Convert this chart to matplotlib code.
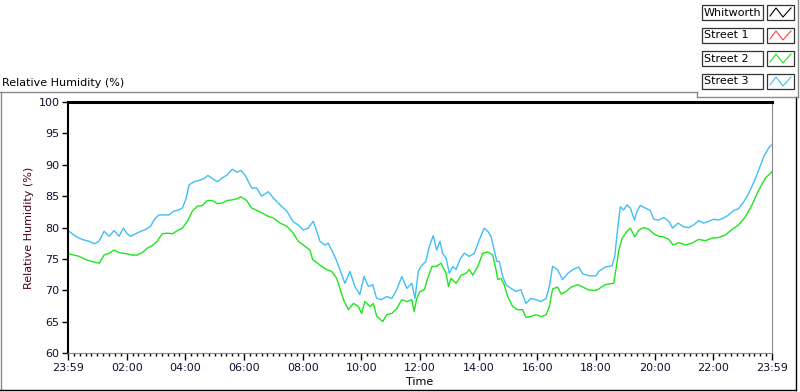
"""
Relative Humidity (%) – 24h Verlauf, Street 2 / Street 3.
Nachbau eines LabVIEW-Waveform-Charts.
"""

import matplotlib
matplotlib.use("Agg")
import matplotlib.pyplot as plt
from matplotlib.lines import Line2D
from matplotlib.patches import Rectangle
from matplotlib.ticker import MultipleLocator

W, H = 800, 392

# Zeit in Stunden seit 23:59 (Start), Werte in %
t_street3 = [0.03, 0.20, 0.38, 0.55, 0.72, 0.89, 1.06, 1.23, 1.40, 1.57, 1.74, 1.89, 2.02, 2.14,
             2.31, 2.48, 2.65, 2.82, 2.93, 3.10, 3.27, 3.44, 3.61, 3.78, 3.90, 4.01, 4.13, 4.30,
             4.47, 4.64, 4.77, 4.92, 5.09, 5.26, 5.43, 5.60, 5.77, 5.89, 6.03, 6.15, 6.26, 6.43,
             6.60, 6.83, 7.00, 7.23, 7.46, 7.68, 7.85, 8.02, 8.19, 8.36, 8.48, 8.59, 8.76, 8.87,
             8.99, 9.14, 9.27, 9.44, 9.61, 9.78, 9.95, 10.09, 10.24, 10.39, 10.52, 10.69, 10.86,
             11.04, 11.21, 11.38, 11.55, 11.72, 11.83, 11.94, 12.03, 12.20, 12.32, 12.45, 12.57,
             12.68, 12.77, 12.89, 13.00, 13.12, 13.23, 13.36, 13.51, 13.68, 13.85, 14.02, 14.19,
             14.31, 14.42, 14.53, 14.62, 14.70, 14.82, 14.93, 15.10, 15.27, 15.44, 15.61, 15.78,
             15.95, 16.13, 16.30, 16.41, 16.52, 16.69, 16.86, 17.04, 17.21, 17.41, 17.55, 17.77,
             18.00, 18.09, 18.32, 18.55, 18.64, 18.72, 18.83, 18.94, 19.06, 19.17, 19.31, 19.40,
             19.51, 19.68, 19.85, 19.97, 20.14, 20.31, 20.48, 20.61, 20.80, 20.99, 21.16, 21.33,
             21.50, 21.67, 21.84, 22.01, 22.18, 22.35, 22.52, 22.69, 22.86, 23.04, 23.21, 23.38,
             23.55, 23.72, 23.89, 24.00]
rh_street3 = [79.4, 78.8, 78.3, 78.0, 77.8, 77.4, 77.8, 79.4, 78.6, 79.5, 78.6, 79.9, 79.0, 78.6,
              79.0, 79.4, 79.7, 80.2, 81.2, 82.0, 82.0, 82.0, 82.6, 82.8, 83.1, 84.4, 86.8, 87.3,
              87.5, 87.8, 88.3, 87.8, 87.3, 87.9, 88.4, 89.3, 88.8, 89.1, 88.4, 87.3, 86.3, 86.3,
              85.0, 85.7, 84.7, 83.6, 82.6, 80.9, 80.4, 79.6, 79.9, 81.0, 79.4, 77.8, 77.2, 77.5,
              76.4, 74.9, 73.3, 71.1, 73.0, 70.6, 69.3, 72.2, 70.6, 70.9, 68.7, 68.5, 69.0,
              68.7, 70.1, 72.2, 70.3, 71.1, 68.7, 73.0, 73.8, 74.6, 77.0, 78.7, 76.4,
              77.8, 75.9, 75.1, 72.7, 73.8, 73.3, 74.9, 75.9, 75.4, 75.9, 78.0, 79.9,
              79.4, 78.6, 76.4, 74.6, 74.6, 72.2, 70.9, 70.3, 69.8, 70.1, 67.9, 68.7,
              68.5, 68.2, 68.7, 70.6, 73.8, 73.3, 71.7, 72.7, 73.3, 73.7, 72.6, 72.3,
              72.3, 73.0, 73.7, 73.9, 75.4, 79.1, 83.3, 82.8, 83.6, 83.1, 81.2, 82.6,
              83.5, 83.1, 82.7, 81.3, 81.2, 81.6, 81.0, 79.9, 80.7, 80.1, 80.0, 80.4,
              81.1, 80.7, 81.0, 81.3, 81.2, 81.5, 82.0, 82.7, 83.0, 84.1, 85.5, 87.2,
              89.2, 91.3, 92.7, 93.2]

t_street2 = [0.03, 0.20, 0.38, 0.55, 0.72, 0.89, 1.06, 1.23, 1.40, 1.57, 1.74, 1.89, 2.02, 2.19,
             2.36, 2.53, 2.70, 2.87, 3.04, 3.21, 3.39, 3.56, 3.73, 3.90, 4.07, 4.24, 4.41, 4.58,
             4.75, 4.92, 5.09, 5.26, 5.43, 5.60, 5.77, 5.89, 6.09, 6.26, 6.55, 6.77, 7.00, 7.23,
             7.46, 7.68, 7.85, 8.08, 8.25, 8.34, 8.48, 8.65, 8.82, 8.99, 9.16, 9.27, 9.39, 9.56,
             9.73, 9.90, 10.01, 10.12, 10.30, 10.41, 10.52, 10.73, 10.86, 11.04, 11.21, 11.38,
             11.55, 11.72, 11.80, 11.89, 12.00, 12.15, 12.26, 12.41, 12.55, 12.72, 12.89, 12.97,
             13.06, 13.23, 13.40, 13.57, 13.68, 13.80, 13.97, 14.14, 14.31, 14.48, 14.59, 14.65,
             14.76, 14.87, 14.99, 15.16, 15.33, 15.50, 15.61, 15.78, 15.95, 16.13, 16.30, 16.41,
             16.52, 16.69, 16.81, 16.98, 17.15, 17.38, 17.55, 17.77, 18.00, 18.09, 18.32, 18.60,
             18.68, 18.78, 18.89, 19.06, 19.17, 19.32, 19.46, 19.63, 19.80, 19.97, 20.14, 20.31,
             20.48, 20.63, 20.82, 21.04, 21.27, 21.50, 21.73, 21.96, 22.18, 22.41, 22.64, 22.86,
             23.09, 23.32, 23.55, 23.78, 24.00]
rh_street2 = [75.8, 75.6, 75.4, 75.0, 74.7, 74.5, 74.3, 75.6, 75.9, 76.4, 76.0, 75.9, 75.8, 75.6,
              75.6, 76.0, 76.7, 77.1, 77.8, 79.0, 79.1, 79.0, 79.5, 79.9, 81.0, 82.6, 83.4, 83.5,
              84.3, 84.3, 83.8, 83.9, 84.3, 84.4, 84.6, 84.9, 84.3, 83.1, 82.5, 81.9, 81.5, 80.7,
              80.2, 79.1, 77.8, 77.0, 76.4, 74.9, 74.4, 73.8, 73.3, 73.0, 71.9, 70.3, 68.5, 66.9,
              67.9, 67.4, 66.3, 68.2, 67.4, 67.9, 65.9, 65.0, 66.1, 66.3, 67.1, 68.5,
              68.2, 68.5, 66.6, 68.7, 69.8, 70.1, 71.9, 73.8, 73.8, 74.3, 72.7, 70.6,
              71.9, 71.1, 72.4, 72.7, 73.3, 72.4, 73.8, 75.9, 76.1, 75.6, 73.3, 71.7,
              71.9, 70.9, 69.0, 67.4, 66.9, 66.9, 65.7, 65.8, 66.1, 65.8, 66.1, 67.4,
              70.2, 70.5, 69.4, 69.8, 70.5, 70.9, 70.5, 70.0, 70.0, 70.2, 70.9, 71.1,
              73.3, 76.4, 78.3, 79.4, 79.9, 78.5, 79.6, 80.0, 79.7, 79.0, 78.6, 78.5,
              78.1, 77.2, 77.6, 77.2, 77.5, 78.1, 77.9, 78.3, 78.4, 78.8, 79.7, 80.4,
              81.7, 83.6, 86.0, 87.9, 88.9]

legend_names = ["Whitworth", "Street 1", "Street 2", "Street 3"]
legend_colors = ["black", "#ff4040", "#1ee61e", "#40bff5"]

x_ticks = [0, 2, 4, 6, 8, 10, 12, 14, 16, 18, 20, 22, 24]
x_labels = ["23:59", "02:00", "04:00", "06:00", "08:00", "10:00", "12:00",
            "14:00", "16:00", "18:00", "20:00", "22:00", "23:59"]

plt.rcParams["font.family"] = "DejaVu Sans"


def fx(x):
    return x / W


def fy(y):
    return 1 - y / H


fig = plt.figure(figsize=(8, 3.92), dpi=100)

# Plotfläche
ax = fig.add_axes([fx(68), fy(353), fx(772) - fx(68), fy(102) - fy(353)])
ax.plot(t_street2, rh_street2, color=legend_colors[2], lw=1.0)
ax.plot(t_street3, rh_street3, color=legend_colors[3], lw=1.0)

ax.set_xlim(0, 24)
ax.set_ylim(60, 100)
ax.set_xticks(x_ticks)
ax.set_xticklabels(x_labels)
ax.xaxis.set_minor_locator(MultipleLocator(0.2))
ax.yaxis.set_major_locator(MultipleLocator(5))
ax.tick_params(axis="both", which="major", length=4, width=1, labelsize=8, pad=2,
               color="black", labelcolor="#101030")
ax.tick_params(axis="x", which="minor", length=2.5, width=1, color="black")
ax.tick_params(axis="x", which="major", length=5)

ax.spines["left"].set_linewidth(1.5)
ax.spines["left"].set_color("black")
ax.spines["top"].set_linewidth(2.2)
ax.spines["top"].set_color("black")
ax.spines["right"].set_color("#888888")
ax.spines["bottom"].set_color("#888888")

ax.set_xlabel("Time", fontsize=8, labelpad=3)
ax.set_ylabel("Relative Humidity (%)", fontsize=8, color="#4a0010", labelpad=3)

# Titel & Rahmen (LabVIEW-Stil)
fig.text(fx(2), fy(83), "Relative Humidity (%)", fontsize=8, va="center", ha="left")
frame = [
    ((0, 697), (92, 92), "#8a8a8a"),
    ((0.5, 0.5), (92, 390), "#8a8a8a"),
    ((0, 796), (390, 390), "black"),
    ((796, 796), (97, 390), "black"),
    ((697, 697), (92, 97), "#8a8a8a"),
    ((697, 798), (97, 97), "#8a8a8a"),
    ((798, 798), (0, 97), "#8a8a8a"),
]
for xs, ys, c in frame:
    fig.add_artist(Line2D([fx(v) for v in xs], [fy(v) for v in ys],
                          color=c, lw=1.0, transform=fig.transFigure))

# Legende
row_tops = [5, 28, 51, 74]
for name, col, top in zip(legend_names, legend_colors, row_tops):
    fig.add_artist(Rectangle((fx(702), fy(top + 15)), fx(763) - fx(702), fy(top) - fy(top + 15),
                             transform=fig.transFigure, facecolor="white",
                             edgecolor="#333333", lw=0.9))
    fig.text(fx(704), fy(top + 7.5), name, fontsize=8, va="center", ha="left")
    fig.add_artist(Rectangle((fx(767), fy(top + 15)), fx(794) - fx(767), fy(top) - fy(top + 15),
                             transform=fig.transFigure, facecolor="white",
                             edgecolor="#333333", lw=0.9))
    ix = [770, 776, 783, 791]
    iy = [top + 11, top + 3, top + 12, top + 3]
    fig.add_artist(Line2D([fx(v) for v in ix], [fy(v) for v in iy],
                          color=col, lw=0.8, transform=fig.transFigure))

fig.savefig("out.png", dpi=100)
plt.close()
